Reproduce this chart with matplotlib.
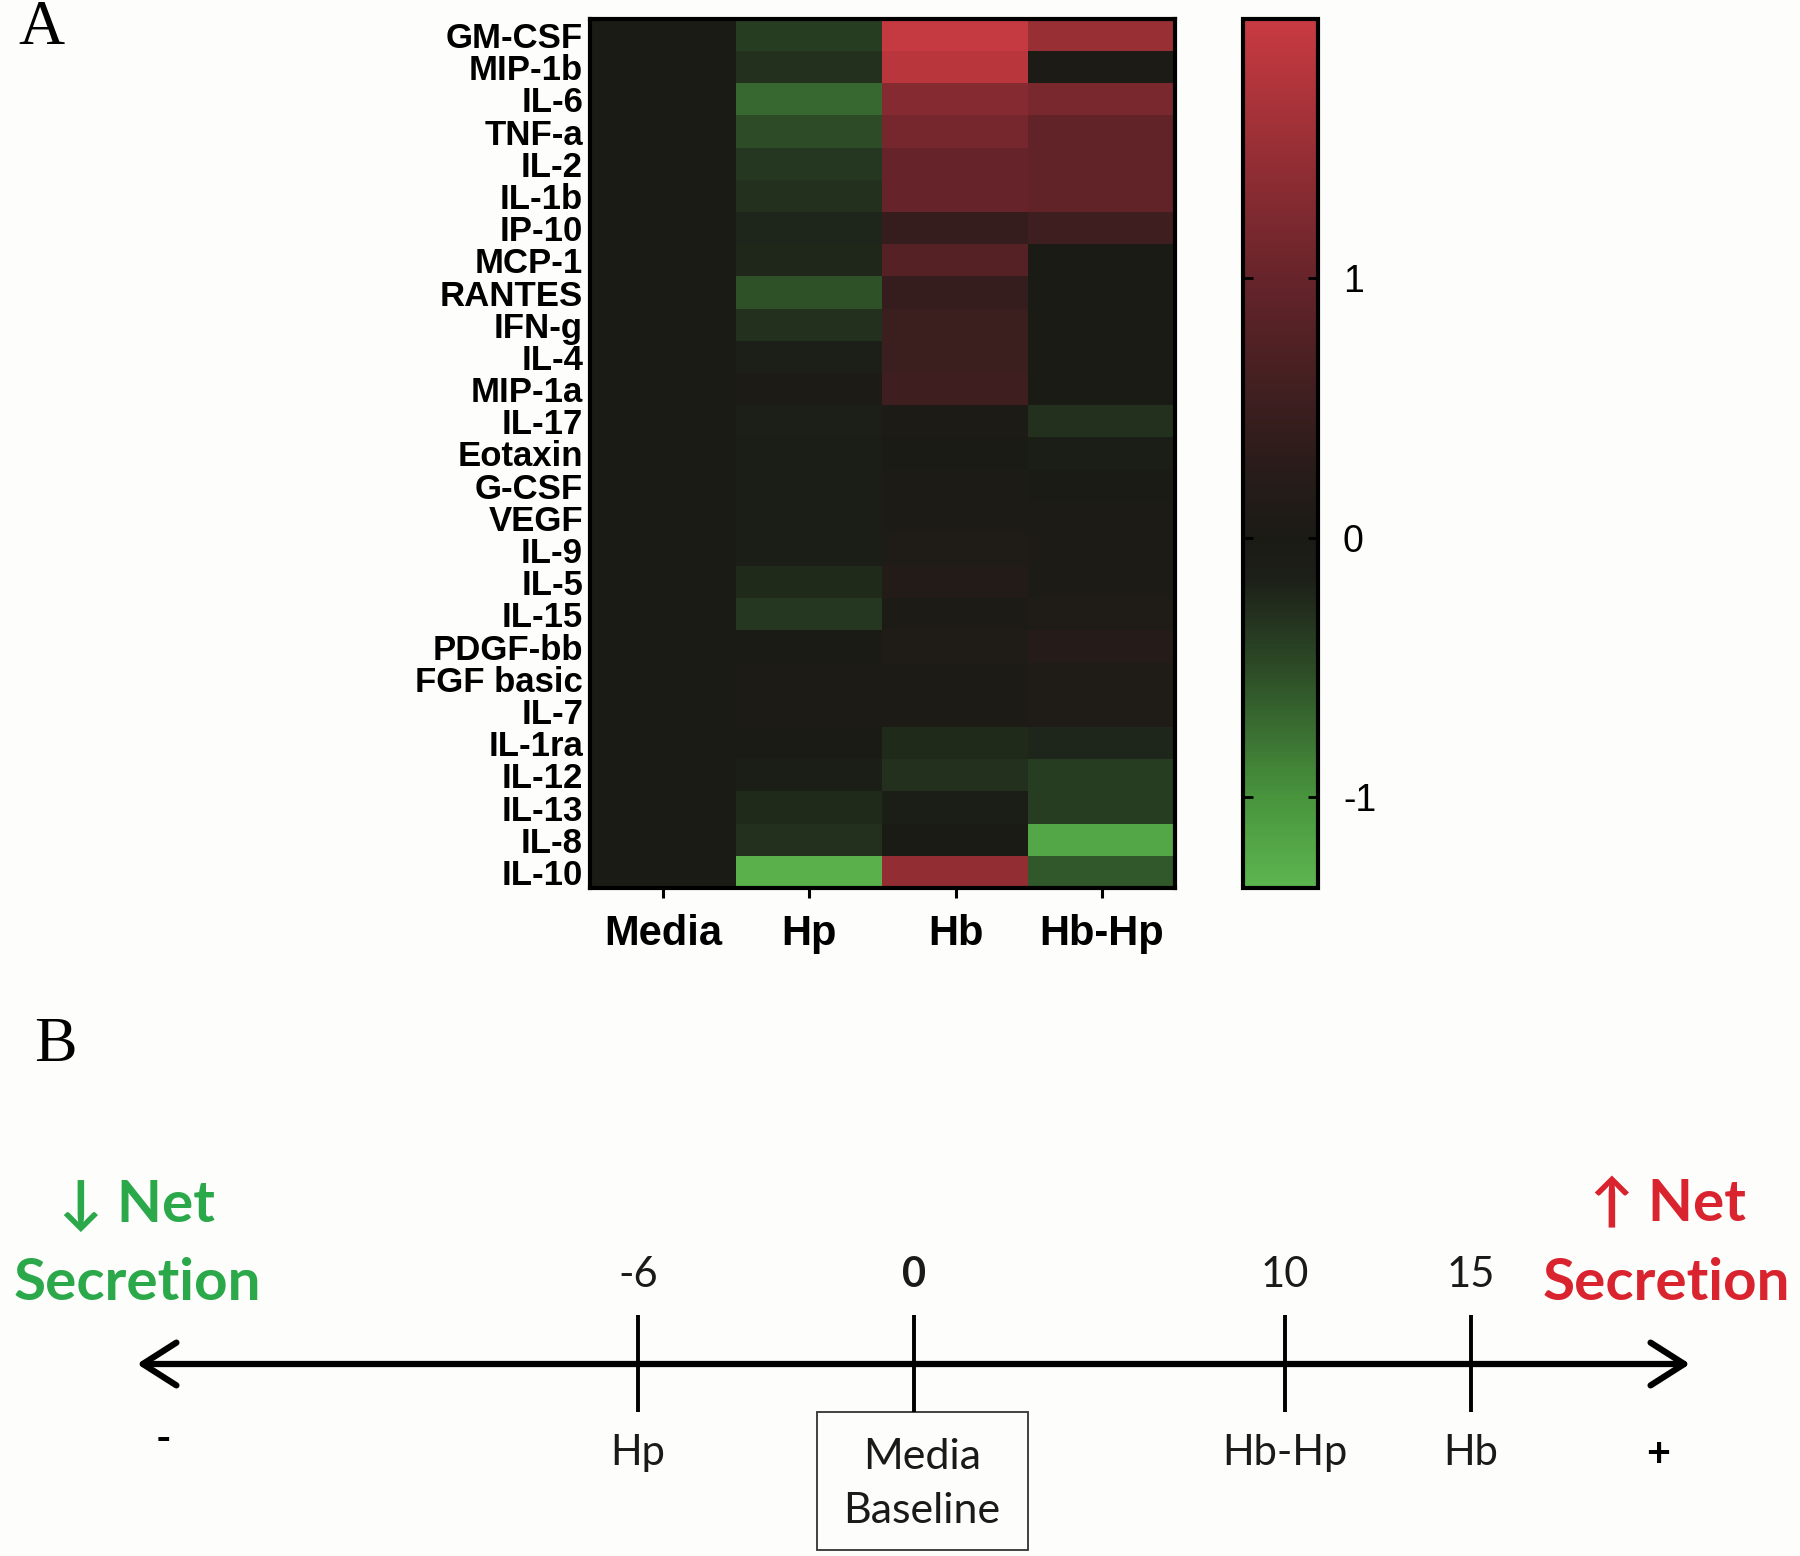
import numpy as np
import matplotlib
matplotlib.use("Agg")
import matplotlib.pyplot as plt
from matplotlib.colors import LinearSegmentedColormap, Normalize
from matplotlib.patches import Rectangle
from matplotlib.transforms import blended_transform_factory

# ---- panel A data ----
cytokines = ["GM-CSF", "MIP-1b", "IL-6", "TNF-a", "IL-2", "IL-1b", "IP-10", "MCP-1",
             "RANTES", "IFN-g", "IL-4", "MIP-1a", "IL-17", "Eotaxin", "G-CSF", "VEGF",
             "IL-9", "IL-5", "IL-15", "PDGF-bb", "FGF basic", "IL-7", "IL-1ra", "IL-12",
             "IL-13", "IL-8", "IL-10"]
conditions = ["Media", "Hp", "Hb", "Hb-Hp"]

media = [0.0, 0.0, 0.0, 0.0, 0.0, 0.0, 0.0, 0.0, 0.0, 0.0, 0.0, -0.05, 0.0, 0.0,
         0.0, 0.0, 0.0, 0.0, 0.0, 0.0, 0.0, 0.0, 0.0, -0.05, 0.0, 0.0, 0.0]
hp = [-0.4, -0.3, -0.7, -0.5, -0.35, -0.3, -0.2, -0.22, -0.55, -0.3, -0.15, 0.03, -0.15, -0.1,
      -0.1, -0.12, -0.12, -0.25, -0.35, 0.0, 0.03, 0.03, 0.02, -0.1, -0.25, -0.3, -1.3]
hb = [1.95, 1.85, 1.3, 1.15, 1.0, 1.0, 0.45, 0.8, 0.45, 0.5, 0.5, 0.55, 0.05, 0.02,
      0.05, 0.05, 0.1, 0.15, 0.05, 0.1, 0.05, 0.05, -0.25, -0.3, -0.12, 0.0, 1.45]
hbhp = [1.5, 0.05, 1.2, 0.95, 0.95, 0.95, 0.55, -0.05, 0.0, -0.05, 0.0, 0.0, -0.3, -0.1,
        -0.05, 0.05, 0.05, 0.05, 0.1, 0.2, 0.1, 0.1, -0.2, -0.4, -0.4, -1.2, -0.6]

cbar_ticks = [-1, 0, 1]

# ---- panel B data ----
scale_values = [-6, 0, 10, 15]
scale_tick_labels = ["-6", "0", "10", "15"]
scale_names = ["Hp", "Media\nBaseline", "Hb-Hp", "Hb"]

BG = "#fdfdfb"
plt.rcParams["font.family"] = ["Liberation Sans", "DejaVu Sans"]

fig = plt.figure(figsize=(18, 15.56), dpi=100, facecolor=BG)

# colormap green -> black -> red
vmin, vmax = -1.35, 2.0
nodes = [(-1.35, "#5db54f"), (-1.0, "#48943d"), (-0.5, "#2c4a26"), (-0.15, "#1c1e18"),
         (0.0, "#1b1b16"), (0.3, "#2a1c1a"), (1.0, "#66242a"), (2.0, "#c93a41")]
cmap = LinearSegmentedColormap.from_list(
    "gr", [((v - vmin) / (vmax - vmin), c) for v, c in nodes])
norm = Normalize(vmin=vmin, vmax=vmax)

data = np.column_stack([media, hp, hb, hbhp])

ax = fig.add_axes([590 / 1800, 1 - 888 / 1556, 585 / 1800, 869 / 1556])
im = ax.imshow(data, cmap=cmap, norm=norm, aspect="auto", interpolation="nearest")
ax.set_yticks(range(len(cytokines)))
ax.set_yticklabels(cytokines, fontsize=25, fontweight="bold")
ax.tick_params(axis="y", length=0, pad=5)
ax.set_xticks(range(len(conditions)))
ax.set_xticklabels(conditions, fontsize=30, fontweight="bold")
ax.tick_params(axis="x", length=7, width=2.2, pad=12)
for s in ax.spines.values():
    s.set_linewidth(3)

cax = fig.add_axes([1243 / 1800, 1 - 888 / 1556, 75 / 1800, 869 / 1556])
cb = fig.colorbar(im, cax=cax, ticks=cbar_ticks)
cb.outline.set_linewidth(3)
cax.tick_params(direction="in", length=7, width=2, left=True, right=True,
                labelsize=27, pad=18)
cax.set_yticklabels([str(t) for t in cbar_ticks])

fig.text(41 / 1800, 1 - 29 / 1556, "A", fontsize=46, family="Liberation Serif",
         ha="center", va="center")
fig.text(55 / 1800, 1 - 1046 / 1556, "B", fontsize=46, family="Liberation Serif",
         ha="center", va="center")

# ---- panel B: schematic scale (negative side drawn wider) ----
unit = 37.1
k_neg = 46.0 / unit


def fwd(x):
    x = np.asarray(x, dtype=float)
    return np.where(x < 0, x * k_neg, x)


def inv(y):
    y = np.asarray(y, dtype=float)
    return np.where(y < 0, y / k_neg, y)


bx = fig.add_axes([0, 0, 1, 622 / 1556])
bx.set_facecolor("none")
bx.set_xscale("function", functions=(fwd, inv))
bx.set_xlim(-914 / unit / k_neg, 886 / unit)
bx.set_ylim(1556, 934)
bx.axis("off")

line_y = 1364
mix = blended_transform_factory(bx.transAxes, bx.transData)
bx.annotate("", xy=(137 / 1800, line_y), xytext=(1690 / 1800, line_y),
            xycoords=mix, textcoords=mix,
            arrowprops=dict(arrowstyle="<->,head_length=1.1,head_width=0.7",
                            lw=4.5, color="black", mutation_scale=22,
                            shrinkA=0, shrinkB=0, capstyle="round",
                            joinstyle="round"))

bfont = ["Lato", "DejaVu Sans"]
txt = "#1a1a1a"
bx.vlines(scale_values, 1315, 1412, color="black", lw=2.8)
for v, lab, name in zip(scale_values, scale_tick_labels, scale_names):
    bx.text(v, 1275, lab, fontsize=30, family=bfont, ha="center", va="center",
            fontweight="bold" if v == 0 else "normal", color=txt)
    if v != 0:
        bx.text(v, 1453, name, fontsize=30, family=bfont, ha="center", va="center",
                color=txt)

# Media baseline box
bx.add_patch(Rectangle((817 / 1800, 1412), 211 / 1800, 138, transform=mix,
                       fill=False, ec="#333333", lw=1.3))
bx.text(922 / 1800, 1484, scale_names[1], transform=mix, fontsize=31, family=bfont,
        ha="center", va="center", linespacing=1.5, color=txt)

bx.text(163 / 1800, 1440, "-", transform=mix, fontsize=30, family=bfont,
        ha="center", va="center", fontweight="bold")
bx.text(1658 / 1800, 1455, "+", transform=mix, fontsize=30, family=bfont,
        ha="center", va="center", fontweight="bold")

green, red = "#2aa84a", "#d9232e"
bx.text(137 / 1800, 1205, "\u2193 Net", transform=mix, fontsize=42, family=bfont,
        fontweight="bold", color=green, ha="center", va="center")
bx.text(137 / 1800, 1283, "Secretion", transform=mix, fontsize=42, family=bfont,
        fontweight="bold", color=green, ha="center", va="center")
bx.text(1668 / 1800, 1205, "\u2191 Net", transform=mix, fontsize=42, family=bfont,
        fontweight="bold", color=red, ha="center", va="center")
bx.text(1666 / 1800, 1283, "Secretion", transform=mix, fontsize=42, family=bfont,
        fontweight="bold", color=red, ha="center", va="center")

fig.savefig("out.png", dpi=100, facecolor=BG)
